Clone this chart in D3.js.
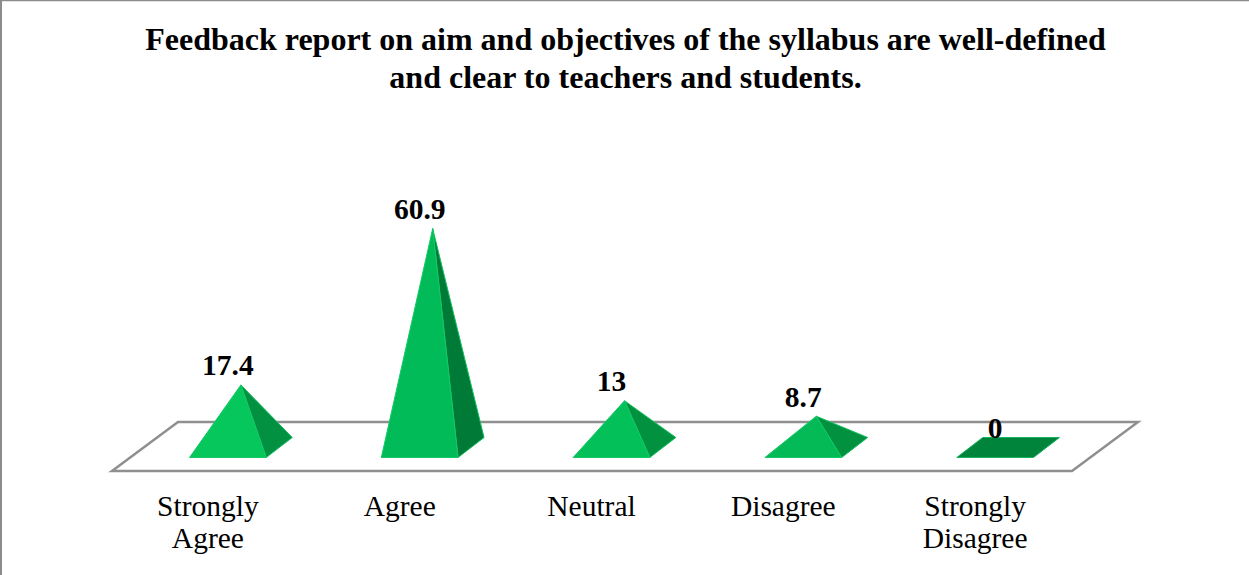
<!DOCTYPE html>
<html>
<head>
<meta charset="utf-8">
<script src="https://cdn.jsdelivr.net/npm/d3@7"></script>
<style>
html,body{margin:0;padding:0;background:#fff;overflow:hidden}
svg{display:block}
text{font-family:"Liberation Serif","Times New Roman",serif;fill:#000}
</style>
</head>
<body>
<svg id="c" width="1249" height="575"></svg>
<script>
const categories = [["Strongly","Agree"],["Agree"],["Neutral"],["Disagree"],["Strongly","Disagree"]];
const values = [17.4, 60.9, 13, 8.7, 0];
const valueLabels = ["17.4","60.9","13","8.7","0"];
const titleLines = ["Feedback report on aim and objectives of the syllabus are well-defined","and clear to teachers and students."];
const frontColors = ["#05c75c","#00bb58","#03c059","#03ba56","#00843c"];
const sideColors = ["#019140","#007a37","#01913f","#01913f","#00843c"];

const W = 1249, H = 575;
const svg = d3.select("#c");

// frame edges
svg.append("line").attr("x1",1).attr("x2",1).attr("y1",0).attr("y2",H).attr("stroke","#8c8c8c").attr("stroke-width",2);
svg.append("line").attr("x1",0).attr("x2",W).attr("y1",0.5).attr("y2",0.5).attr("stroke","#8c8c8c").attr("stroke-width",1.5);

// title
svg.append("g").selectAll("text").data(titleLines).join("text")
  .attr("x",625.5).attr("y",(d,i)=>50+i*38)
  .attr("text-anchor","middle").attr("font-weight","bold").attr("font-size",32)
  .text(d=>d);

const x = d3.scaleBand().domain(d3.range(categories.length)).range([112,1071]);
const y = d3.scaleLinear().domain([0,60.9]).range([0,219]);
const depth = {dx:26, dy:20};
const baseY = 457.5, floorFront = 471, floorBack = 422, floorShift = 66;
const halfBase = x.bandwidth()*0.2;
const offset = 20;

// floor
const floor = [[112,floorFront],[1072,floorFront],[1072+floorShift,floorBack],[112+floorShift,floorBack]];
svg.append("path").attr("d",d3.line()(floor)+"Z")
  .attr("fill","#fff").attr("stroke","#8f8f8f").attr("stroke-width",2.5).attr("stroke-linejoin","miter");

// pyramids
const line = d3.line();
const g = svg.append("g");
values.forEach((v,i)=>{
  const cx = x(i)+x.bandwidth()/2+offset;
  const x0 = cx-halfBase, x1 = cx+halfBase;
  const apex = [cx+depth.dx/2, baseY-depth.dy/2-y(v)];
  if(v===0){
    g.append("path").attr("d",line([[x0,baseY],[x1,baseY],[x1+depth.dx,baseY-depth.dy],[x0+depth.dx,baseY-depth.dy]])+"Z")
      .attr("fill",frontColors[i]).attr("stroke","#16b45c").attr("stroke-width",1);
  } else {
    g.append("path").attr("d",line([[x1,baseY],[x1+depth.dx,baseY-depth.dy],apex])+"Z")
      .attr("fill",sideColors[i]).attr("stroke","#12c060").attr("stroke-width",1).attr("stroke-linejoin","round");
    g.append("path").attr("d",line([[x0,baseY],[x1,baseY],apex])+"Z")
      .attr("fill",frontColors[i]).attr("stroke","#14c865").attr("stroke-width",1).attr("stroke-linejoin","round");
  }
  svg.append("text").attr("x",cx).attr("y",apex[1]-9.5)
    .attr("text-anchor","middle").attr("font-weight","bold").attr("font-size",29.5)
    .text(valueLabels[i]);
  const t = svg.append("text").attr("text-anchor","middle").attr("font-size",29.5);
  categories[i].forEach((s,j)=>t.append("tspan").attr("x",x(i)+x.bandwidth()/2).attr("y",516+j*32).text(s));
});
</script>
</body>
</html>
